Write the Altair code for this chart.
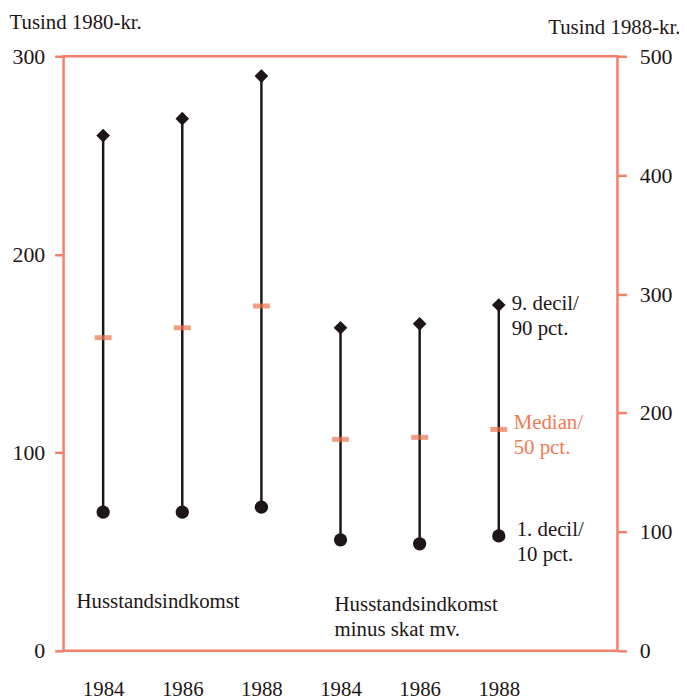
import json
import altair as alt
import pandas as pd

# ---- data ----
years = ["1984", "1986", "1988", "1984", "1986", "1988"]
p90 = [260, 268.5, 290, 163, 165, 174.5]      # 9. decil (Tusind 1980-kr.)
median = [158, 163, 174, 106.7, 107.7, 111.7]  # median
p10 = [70, 70, 72.5, 56, 54, 58]               # 1. decil
left_ticks = [0, 100, 200, 300]
right_ticks = [0, 100, 200, 300, 400, 500]
group_labels = ["Husstandsindkomst", "Husstandsindkomst\nminus skat mv."]
legend_labels = ["9. decil/\n90 pct.", "Median/\n50 pct.", "1. decil/\n10 pct."]

FRAME = "#f4806c"
MED = "#e9744f"
INK = "#1e1616"
FONT = "Liberation Serif"
FS = 21

df = pd.DataFrame({"i": list(range(len(years))), "year": years,
                   "p90": p90, "median": median, "p10": p10})

W, H = 558, 599
xscale = alt.Scale(domain=[-0.5, len(years) + 0.5], nice=False, zero=False)
yscale = alt.Scale(domain=[0, 300], nice=False)

label_expr = json.dumps(years) + "[datum.value]"

xenc = alt.X("i:Q", scale=xscale,
             axis=alt.Axis(values=list(range(len(years))), labelExpr=label_expr,
                           ticks=False, domain=False, grid=False, title=None,
                           labelFont=FONT, labelFontSize=FS, labelColor=INK,
                           labelPadding=28, labelBaseline="top"))

yaxis_left = alt.Axis(values=left_ticks, grid=False, domain=False,
                      tickColor=FRAME, tickSize=9, tickWidth=2.5,
                      labelFont=FONT, labelFontSize=22, labelColor=INK,
                      labelPadding=10,
                      title="Tusind 1980-kr.", titleFont=FONT, titleFontSize=FS,
                      titleFontWeight="normal", titleColor=INK, titleAngle=0,
                      titleAlign="left", titleBaseline="middle",
                      titleX=-55, titleY=-34)

base = alt.Chart(df)

lines = base.mark_rule(color=INK, strokeWidth=2.5).encode(
    x=xenc,
    y=alt.Y("p10:Q", scale=yscale, axis=yaxis_left),
    y2="p90:Q",
)

med = base.mark_tick(orient="horizontal", color=MED, size=17, thickness=5).encode(
    x="i:Q", y=alt.Y("median:Q", scale=yscale))

tops = base.mark_point(shape="diamond", filled=True, color=INK, size=190, opacity=1).encode(
    x="i:Q", y=alt.Y("p90:Q", scale=yscale))

bots = base.mark_point(shape="circle", filled=True, color=INK, size=180, opacity=1).encode(
    x="i:Q", y=alt.Y("p10:Q", scale=yscale))

# legend texts next to the last series
last = len(years) - 1
leg_df = pd.DataFrame({
    "i": [last, last, last],
    "v": [p90[last], median[last], p10[last]],
    "t": legend_labels,
    "c": ["a", "b", "c"],
})
leg_top = alt.Chart(leg_df[leg_df.c == "a"]).mark_text(
    align="left", baseline="top", dx=13, dy=-12, lineBreak="\n", lineHeight=25,
    font=FONT, fontSize=FS, color=INK).encode(x="i:Q", y=alt.Y("v:Q", scale=yscale), text="t:N")
leg_med = alt.Chart(leg_df[leg_df.c == "b"]).mark_text(
    align="left", baseline="top", dx=15, dy=-17, lineBreak="\n", lineHeight=25,
    font=FONT, fontSize=FS, color="#f07a55").encode(x="i:Q", y=alt.Y("v:Q", scale=yscale), text="t:N")
leg_bot = alt.Chart(leg_df[leg_df.c == "c"]).mark_text(
    align="left", baseline="top", dx=18, dy=-17, lineBreak="\n", lineHeight=25,
    font=FONT, fontSize=FS, color=INK).encode(x="i:Q", y=alt.Y("v:Q", scale=yscale), text="t:N")

grp_df = pd.DataFrame({"t": group_labels})
grp1 = alt.Chart(grp_df.iloc[[0]]).mark_text(
    align="left", baseline="top", lineBreak="\n", lineHeight=25,
    font=FONT, fontSize=FS, color=INK).encode(
    x=alt.value(13), y=alt.value(539), text="t:N")
grp2 = alt.Chart(grp_df.iloc[[1]]).mark_text(
    align="left", baseline="top", lineBreak="\n", lineHeight=25,
    font=FONT, fontSize=FS, color=INK).encode(
    x=alt.value(273), y=alt.value(542), text="t:N")

right_df = pd.DataFrame({"r": [0, 500]})
right = alt.Chart(right_df).mark_point(opacity=0).encode(
    y=alt.Y("r:Q", scale=alt.Scale(domain=[0, 500], nice=False),
            axis=alt.Axis(orient="right", values=right_ticks, grid=False, domain=False,
                          tickColor=FRAME, tickSize=9, tickWidth=2.5,
                          labelFont=FONT, labelFontSize=22, labelColor=INK,
                          labelPadding=13,
                          title="Tusind 1988-kr.", titleFont=FONT, titleFontSize=FS,
                          titleFontWeight="normal", titleColor=INK, titleAngle=0,
                          titleAlign="right", titleBaseline="middle",
                          titleX=63, titleY=-29)),
)

left_layer = alt.layer(lines, med, tops, bots, leg_top, leg_med, leg_bot, grp1, grp2)

chart = alt.layer(left_layer, right).resolve_scale(y="independent").properties(
    width=W, height=H,
    autosize=alt.AutoSizeParams(type="none"),
    padding={"left": 56, "top": 46, "right": 62, "bottom": 58},
).configure(background="white").configure_view(stroke=FRAME, strokeWidth=2.5)

chart.save("out.html", embed_options={"renderer": "svg", "actions": False})
